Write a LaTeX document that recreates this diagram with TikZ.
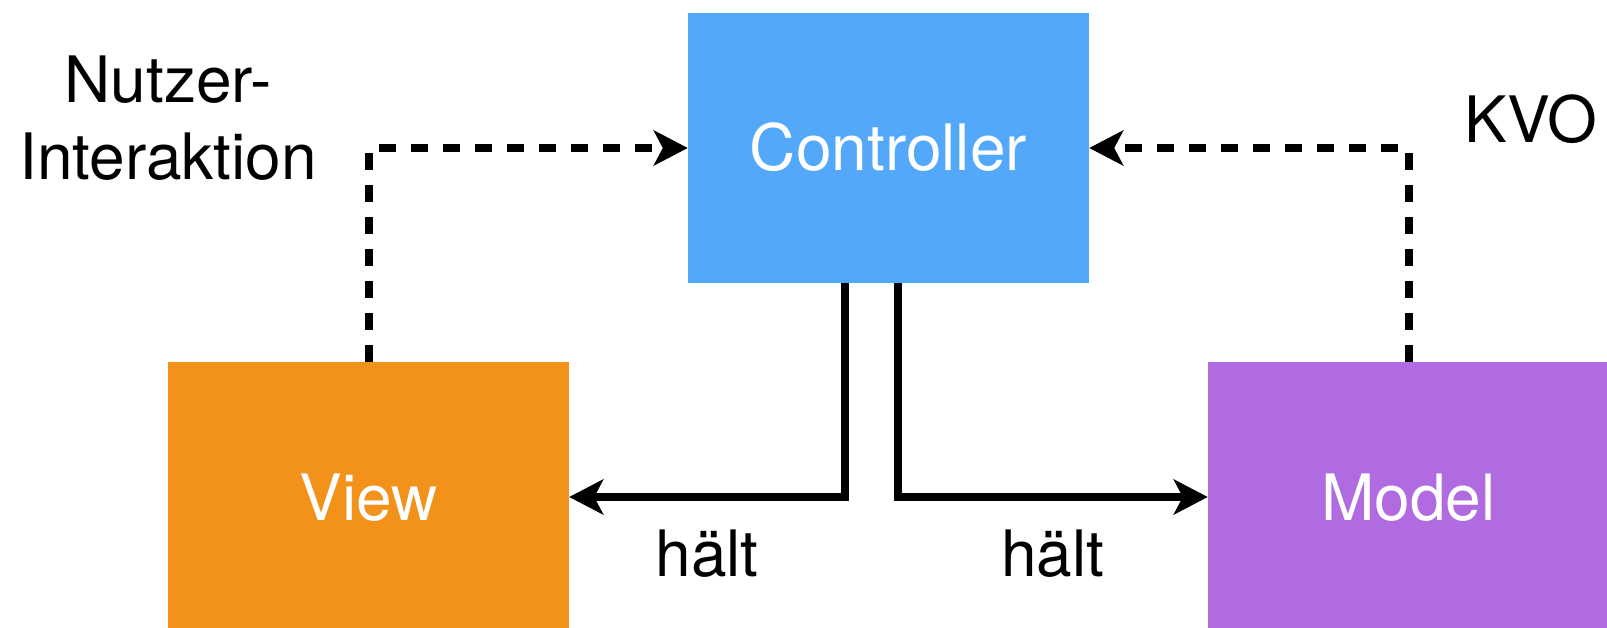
\documentclass[tikz,border=0pt]{standalone}
\usepackage{fontspec}
\setmainfont{TeX Gyre Heros}
\usetikzlibrary{arrows.meta}
\definecolor{ctrlblue}{RGB}{83,168,250}
\definecolor{vieworange}{RGB}{242,146,27}
\definecolor{modelpurple}{RGB}{177,107,225}
\begin{document}
\begin{tikzpicture}[x=1pt,y=-1pt,
  every node/.style={font=\fontsize{64}{77}\selectfont},
  block/.style={rectangle, inner sep=0pt, minimum width=401pt, text=white,
    text height=46pt, text depth=0pt},
  tip/.style={-{Stealth[length=34pt,width=35pt,inset=9pt]}},
  observe/.style={tip, line width=8pt, dash pattern=on 17pt off 15pt},
  holds/.style={tip, line width=8pt, line join=miter},
  caption/.style={anchor=base, text=black}]
\useasboundingbox (0,0) rectangle (1607,628);

% the three parts
\node[block, fill=ctrlblue, minimum height=270pt] (ctrl) at (888.5,148) {Controller};
\node[block, fill=vieworange, minimum height=270pt] (view) at (368.5,497) {View};
\node[block, fill=modelpurple, minimum height=270pt] (model) at (1408.5,497) {Model};

% notifications towards the controller
\draw[observe] (view.north) |- (ctrl.west);
\draw[observe] (model.north) |- (ctrl.east);

% ownership links
\draw[holds] ([xshift=-43.5pt]ctrl.south) |- (view.east)
  node[caption, pos=0.75, yshift=-79pt] (h1) {hält};
\draw[holds] ([xshift=9.5pt]ctrl.south) |- (model.west)
  node[caption, pos=0.75, yshift=-79pt] (h2) {hält};

% side labels (base anchor sits on the last line)
\node[caption, align=center] (user) at (168,180) {Nutzer-\\Interaktion};
\node[caption] (kvo) at (1531,143) {KVO};
\end{tikzpicture}
\end{document}
